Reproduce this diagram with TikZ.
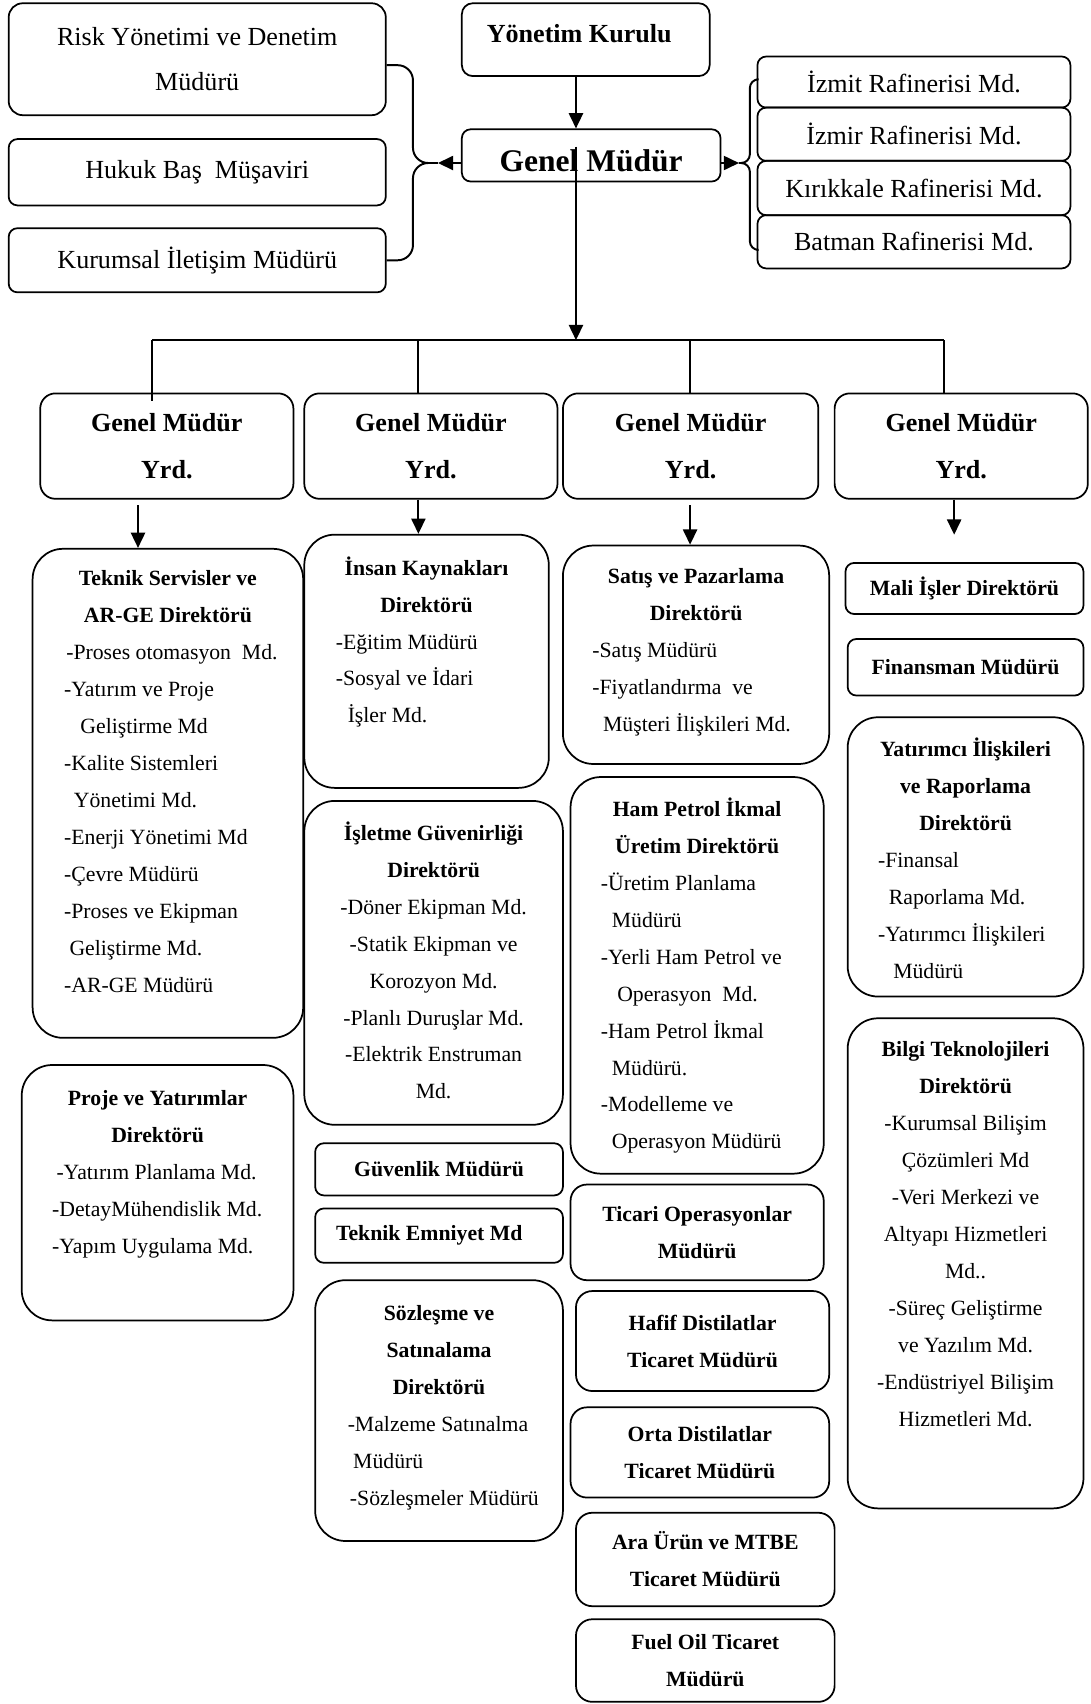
\documentclass[tikz,border=0pt]{standalone}
\usepackage{fontspec}
\setmainfont{Liberation Serif}
\usetikzlibrary{calc,arrows.meta}
\def\orgbox[#1](#2)(#3,#4)(#5,#6)#7{\node[#1, minimum width={0.5pt*(#5-#3)}, minimum height={0.5pt*(#6-#4)}] (#2) at ({(#3+#5)/2},{(#4+#6)/2}) {#7};}
\newcommand\boxhead[1]{{\spaceskip=0pt\xspaceskip=0pt\centering\bfseries#1\par}}
\newcommand\boxitems[2]{{\spaceskip=0pt\xspaceskip=0pt\leftskip=#1\relax#2\par}}
\newcommand\boxcentre[1]{{\spaceskip=0pt\xspaceskip=0pt\centering#1\par}}

\begin{document}
\begin{tikzpicture}[x=0.5pt, y=-0.5pt,
	box/.style={draw, line width=0.8pt, rounded corners=#1, align=center, inner sep=0pt},
	box/.default=5pt,
	uptxt/.style={font=\fontsize{12}{21}\selectfont},
	gmytxt/.style={font=\bfseries\fontsize{12}{21.5}\selectfont},
	boldsm/.style={font=\bfseries\fontsize{10}{17}\selectfont},
	listtxt/.style={text width=#1, align=flush left, anchor=base, inner sep=0pt, font=\fontsize{10}{17}\selectfont},
	wire/.style={line width=0.9pt},
	arr/.style={line width=0.9pt, -{Triangle[length=7pt,width=6.5pt]}}]
			%%%%% START %%%%%
			
			\useasboundingbox (0,0) rectangle (1003,1568);
			
			% top of the chart
			\orgbox[box=6.5pt, uptxt](rk)(8,3)(355,106){Risk Yönetimi ve Denetim\\Müdürü}
			\orgbox[box=4pt, uptxt](hk)(8,128)(355,189){Hukuk Baş\ \ Müşaviri}
			\orgbox[box=4pt, uptxt](kr)(8,210)(355,269){Kurumsal İletişim Müdürü}
			\orgbox[box=5pt, font=\bfseries\fontsize{12}{21}\selectfont](yk)(425,3)(653,70){\raisebox{3pt}[\height][\depth]{Yönetim Kurulu\hspace{6pt}}}
			\orgbox[box=4pt, font=\bfseries\fontsize{14.5}{17}\selectfont](gm)(425,119)(663,167){\raisebox{-2.5pt}[\height][\depth]{Genel Müdür}}
			
			\orgbox[box=4pt, uptxt](iz)(697,52)(985,99){İzmit Rafinerisi Md.}
			\orgbox[box=4pt, uptxt](ir)(697,99)(985,148){İzmir Rafinerisi Md.}
			\orgbox[box=4pt, uptxt](kk)(697,148)(985,198){Kırıkkale Rafinerisi Md.}
			\orgbox[box=4pt, uptxt](bm)(697,198)(985,247){Batman Rafinerisi Md.}
			
			\coordinate (lb) at (403,150);
			\coordinate (rb) at (680,150);
			\draw[arr] (gm.west |- lb) -- (lb);
			\draw[wire, rounded corners=7pt] ($(rk.east)+(0,5.5)$) -| ($(lb)+(-23,0)$) -- (lb);
			\draw[wire, rounded corners=7pt] (lb) -- ($(lb)+(-23,0)$) |- (kr.east);
			\draw[arr] (gm.east |- rb) -- (rb);
			\draw[wire, rounded corners=4pt] (rb) -- ($(rb)+(10,0)$) |- ($(iz.west)+(0,-2.5)$);
			\draw[wire, rounded corners=4pt] (rb) -- ($(rb)+(10,0)$) |- ($(bm.west)+(0,7.5)$);
			
			% deputies
			\orgbox[box=7pt, gmytxt](g1)(37,362)(270,459){Genel Müdür\\Yrd.}
			\orgbox[box=7pt, gmytxt](g2)(280,362)(513,459){Genel Müdür\\Yrd.}
			\orgbox[box=7pt, gmytxt](g3)(518,362)(753,459){Genel Müdür\\Yrd.}
			\orgbox[box=7pt, gmytxt](g4)(768,362)(1001,459){Genel Müdür\\Yrd.}
			
			\coordinate (trunk) at (530,313);
			\coordinate (d1) at (140,313);
			\coordinate (d2) at (385,313);
			\coordinate (d3) at (635,313);
			\coordinate (d4) at (869,313);
			\draw[arr] (trunk |- yk.south) -- (trunk |- gm.north);
			\draw[arr] ($(trunk |- gm.center)+(0,-8)$) -- (trunk);
			\draw[wire] (d1) -- (d4);
			\draw[wire] (d1) -- ($(d1 |- g1.north)+(0,8)$);
			\foreach \drop/\gmy in {d2/g2, d3/g3, d4/g4}
				\draw[wire] (\drop) -- (\drop |- \gmy.north);
			
			% column 1
			\orgbox[box=14pt](ts)(30,505)(279,955){}
			\node[listtxt=119.5pt] (tsl) at ([yshift=-17.5pt]ts.north) {\boxhead{Teknik Servisler ve\\AR-GE Direktörü}\boxitems{12pt}{\hspace*{1pt}-Proses otomasyon\ \ Md.\\
				-Yatırım ve Proje\\
				\hspace*{7.5pt}Geliştirme Md\\
				-Kalite Sistemleri\\
				\hspace*{4.5pt}Yönetimi Md.\\
				-Enerji Yönetimi Md\\
				-Çevre Müdürü\\
				-Proses ve Ekipman\\
				\hspace*{2.5pt}Geliştirme Md.\\
				-AR-GE Müdürü}};
			
			\orgbox[box=14pt](pj)(20,980)(270,1215){}
			\node[listtxt=120pt] (pjl) at ([yshift=-19pt]pj.north) {\boxhead{Proje ve Yatırımlar\\Direktörü}\boxitems{11.5pt}{\hspace*{2pt}-Yatırım Planlama Md.\\
				-DetayMühendislik Md.\\
				-Yapım Uygulama Md.}};
			
			% column 2
			\orgbox[box=14pt](ik)(280,492)(505,725){}
			\node[listtxt=107.5pt] (ikl) at ([yshift=-19pt]ik.north) {\boxhead{İnsan Kaynakları\\Direktörü}\boxitems{12pt}{-Eğitim Müdürü\\
				-Sosyal ve İdari\\
				\hspace*{5.5pt}İşler Md.}};
			
			\orgbox[box=14pt](ig)(280,737)(518,1035){}
			\node[listtxt=114pt] (igl) at ([yshift=-18.5pt]ig.north) {\boxhead{İşletme Güvenirliği\\Direktörü}\boxcentre{-Döner Ekipman Md.\\
				-Statik Ekipman ve\\
				Korozyon Md.\\
				-Planlı Duruşlar Md.\\
				-Elektrik Enstruman\\
				Md.}};
			
			\orgbox[box=4pt, boldsm](gv)(290,1052)(518,1100){Güvenlik Müdürü}
			\orgbox[box=4pt, boldsm](te)(290,1112)(518,1162){Teknik Emniyet Md\hspace{9pt}}
			
			\orgbox[box=14pt](sz)(290,1178)(518,1418){}
			\node[listtxt=109pt] (szl) at ([yshift=-19pt]sz.north) {\boxhead{Sözleşme ve\\Satınalama\\Direktörü}\boxitems{12.5pt}{-Malzeme Satınalma\\
				\hspace*{2.5pt}Müdürü\\
				\hspace*{1pt}-Sözleşmeler Müdürü}};
			
			% column 3
			\orgbox[box=14pt](sp)(518,502)(763,703){}
			\node[listtxt=117.5pt] (spl) at ([yshift=-18pt]sp.north) {\boxhead{Satış ve Pazarlama\\Direktörü}\boxitems{11pt}{-Satış Müdürü\\
				-Fiyatlandırma\ \ ve\\
				\hspace*{5pt}Müşteri İlişkileri Md.}};
			
			\orgbox[box=14pt](hp)(525,715)(758,1080){}
			\node[listtxt=111.5pt] (hpl) at ([yshift=-18.5pt]hp.north) {\boxhead{Ham Petrol İkmal\\Üretim Direktörü}\boxitems{11.5pt}{-Üretim Planlama\\
				\hspace*{5pt}Müdürü\\
				-Yerli Ham Petrol ve\\
				\hspace*{7.5pt}Operasyon\ \ Md.\\
				-Ham Petrol İkmal\\
				\hspace*{5pt}Müdürü.\\
				-Modelleme ve\\
				\hspace*{5pt}Operasyon Müdürü}};
			
			\orgbox[box=7.5pt, boldsm](to)(525,1090)(758,1178){Ticari Operasyonlar\\Müdürü}
			\orgbox[box=7.5pt, boldsm](hd)(530,1188)(763,1280){Hafif Distilatlar\\Ticaret Müdürü}
			\orgbox[box=7.5pt, boldsm](od)(525,1295)(763,1378){Orta Distilatlar\\Ticaret Müdürü}
			\orgbox[box=7.5pt, boldsm](au)(530,1392)(768,1478){Ara Ürün ve MTBE\\Ticaret Müdürü}
			\orgbox[box=7.5pt, boldsm](fo)(530,1490)(768,1566){Fuel Oil Ticaret\\Müdürü}
			
			% column 4
			\orgbox[box=4pt, boldsm](mi)(778,518)(997,565){Mali İşler Direktörü}
			\orgbox[box=4pt, boldsm](fm)(780,588)(997,640){Finansman Müdürü}
			
			\orgbox[box=14pt](yi)(780,660)(997,917){}
			\node[listtxt=103.5pt] (yil) at ([yshift=-18.5pt]yi.north) {\boxhead{Yatırımcı İlişkileri\\ve Raporlama\\Direktörü}\boxitems{11.5pt}{-Finansal\\
				\hspace*{5pt}Raporlama Md.\\
				-Yatırımcı İlişkileri\\
				\hspace*{7pt}Müdürü}};
			
			\orgbox[box=14pt](bt)(780,937)(997,1388){}
			\node[listtxt=103.5pt] (btl) at ([yshift=-18pt]bt.north) {\boxhead{Bilgi Teknolojileri\\Direktörü}\boxcentre{-Kurumsal Bilişim\\
				Çözümleri Md\\
				-Veri Merkezi ve\\
				Altyapı Hizmetleri\\
				Md..\\
				-Süreç Geliştirme\\
				ve Yazılım Md.\\
				-Endüstriyel Bilişim\\
				Hizmetleri Md.}};
			
			% deputies to their units
			\coordinate (a1) at (127,465);
			\coordinate (a2) at (385,459);
			\coordinate (a3) at (635,465);
			\coordinate (a4) at (878,492);
			\draw[arr] (a1) -- (a1 |- ts.north);
			\draw[arr] (a2 |- g2.south) -- (a2 |- ik.north);
			\draw[arr] (a3) -- (a3 |- sp.north);
			\draw[arr] (a4 |- g4.south) -- (a4);
			
			%%%%% END %%%%%
\end{tikzpicture}
\end{document}
